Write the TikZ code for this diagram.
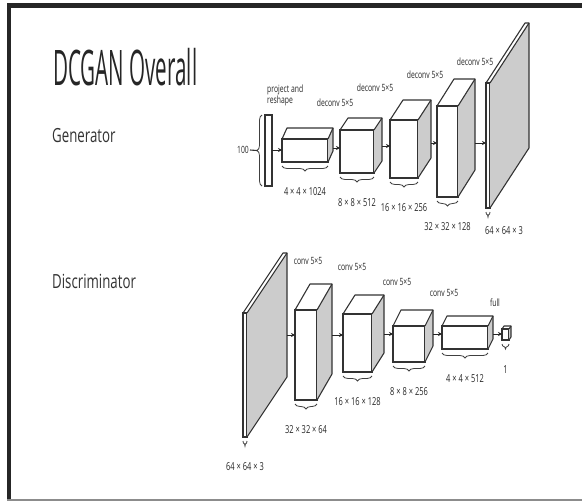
\documentclass[tikz,border=0pt]{standalone}
\usepackage{fontspec}
\setmainfont{Open Sans}[FakeStretch=0.68]
\newfontfamily\titlefont{Open Sans}[FakeStretch=0.42]
\usetikzlibrary{calc,positioning,arrows.meta,decorations.pathreplacing}

\tikzset{
  face/.style={draw=black!80, fill=white, line width=1.1pt, inner sep=0pt, outer sep=0pt},
  side/.style={fill=black!20},
  edge/.style={draw=black!80, line width=1.1pt, line join=round},
  flow/.style={-{Stealth[length=4pt,width=4pt]}, line width=1pt, black!85},
  brc/.style={decorate, decoration={brace, amplitude=5pt}, line width=0.8pt, black!75},
  op/.style={font=\fontsize{10}{11}\selectfont, text=black!85, inner sep=1pt},
  dim/.style={font=\fontsize{11}{12}\selectfont, text=black!85, inner sep=1pt},
  sect/.style={font=\fontsize{19.5}{22}\selectfont, text=black!80, anchor=base west, inner sep=0pt},
}

% name, x, y, width, height, depth x, depth y, arrow level, size
\newcommand{\layer}[9]{%
  \node[face, minimum width=#4pt, minimum height=#5pt, anchor=north west] (#1) at (#2,#3) {};
  \fill[side] (#1.north east) -- ++(#6,#7) -- ++(0,#5) -- (#1.south east) -- cycle;
  \draw[edge] (#1.north west) -- ++(#6,#7) -- ++(#4,0) -- ++(0,#5) -- (#1.south east);
  \draw[edge] (#1.north east) -- ++(#6,#7);
  \coordinate (#1-s) at ($(#1.east)+(#6,0)$);
  \coordinate (#1-a) at (#1.west |- 0,#8);
  \draw[brc] ($(#1.south east)+(0,4)$) -- ($(#1.south west)+(0,4)$);
  \node[dim] (#1-l) at ($(#1.south)+(0,30)$) {#9};
}

\begin{document}
\begin{tikzpicture}[x=1pt,y=-1pt]
\useasboundingbox (0,0) rectangle (582,501);
\fill[black!85] (7,3) rectangle (582,8);
\fill[black!85] (7,3) rectangle (11,501);
\draw[black!45, line width=2pt] (7,500) -- (582,500);

\node[anchor=base west, inner sep=0pt, font=\titlefont\fontsize{49}{50}\selectfont, text=black!85] (title) at (53,85) {DCGAN Overall};
\node[sect] (gen) at (52,142) {Generator};
\node[sect] (dis) at (52,288) {Discriminator};

% generator
\node[face, minimum width=7pt, minimum height=71pt, anchor=north west] (gin) at (265,115) {};
\draw[brc] ($(gin.south west)+(-3,0)$) -- ($(gin.north west)+(-3,0)$);
\coordinate (zbr) at ($(gin.west)+(-8,0)$);
\node[op, anchor=east] (z) at (250,150) {100};
\draw[edge] (z.east) -- (zbr);

\layer{g1}{282}{139}{46}{23}{5}{-11}{150}{4 × 4 × 1024}
\layer{g2}{340}{130}{34}{43}{8}{-12}{148}{8 × 8 × 512}
\layer{g3}{390}{120}{28}{58}{13}{-20}{146}{16 × 16 × 256}
\layer{g4}{437}{106}{21}{91}{17}{-27}{143}{32 × 32 × 128}
\layer{g5}{486}{83}{4}{125}{39}{-60}{143}{}
\node[dim] (g5-lab) at (504,231) {64 × 64 × 3};

\draw[flow] (gin.east |- g1-a) -- (g1-a);
\draw[flow] (g1-s |- g2-a) -- (g2-a);
\draw[flow] (g2-s |- g3-a) -- (g3-a);
\draw[flow] (g3-s |- g4-a) -- (g4-a);
\draw[flow] (g4-s |- g5-a) -- (g5-a);

\node[op, align=left, anchor=west] (proj) at (266,95) {project and\\reshape};
\node[op] (dc1) at (335,103) {deconv 5×5};
\node[op] (dc2) at (375,88) {deconv 5×5};
\node[op] (dc3) at (425,75) {deconv 5×5};
\node[op] (dc4) at (475,62) {deconv 5×5};

% discriminator
\layer{d0}{243}{313}{4}{124}{40}{-60}{335}{64 × 64 × 3}
\layer{d1}{295}{310}{22}{90}{15}{-26}{335}{32 × 32 × 64}
\layer{d2}{343}{314}{29}{58}{12}{-19}{335}{16 × 16 × 128}
\layer{d3}{393}{326}{32}{36}{8}{-16}{334}{8 × 8 × 256}
\layer{d4}{442}{326}{46}{23}{5}{-10}{334}{4 × 4 × 512}
\layer{d5}{502}{329}{7}{11}{2}{-3}{334}{1}

\draw[flow] (d0-s |- d1-a) -- (d1-a);
\draw[flow] (d1-s |- d2-a) -- (d2-a);
\draw[flow] (d2-s |- d3-a) -- (d3-a);
\draw[flow] (d3-s |- d4-a) -- (d4-a);
\draw[flow] (d4-s |- d5-a) -- (d5-a);

\node[op] (cv1) at (308,261) {conv 5×5};
\node[op] (cv2) at (352,267) {conv 5×5};
\node[op] (cv3) at (397,282) {conv 5×5};
\node[op] (cv4) at (444,293) {conv 5×5};
\node[op] (fc) at (495,303) {full};
\end{tikzpicture}
\end{document}
